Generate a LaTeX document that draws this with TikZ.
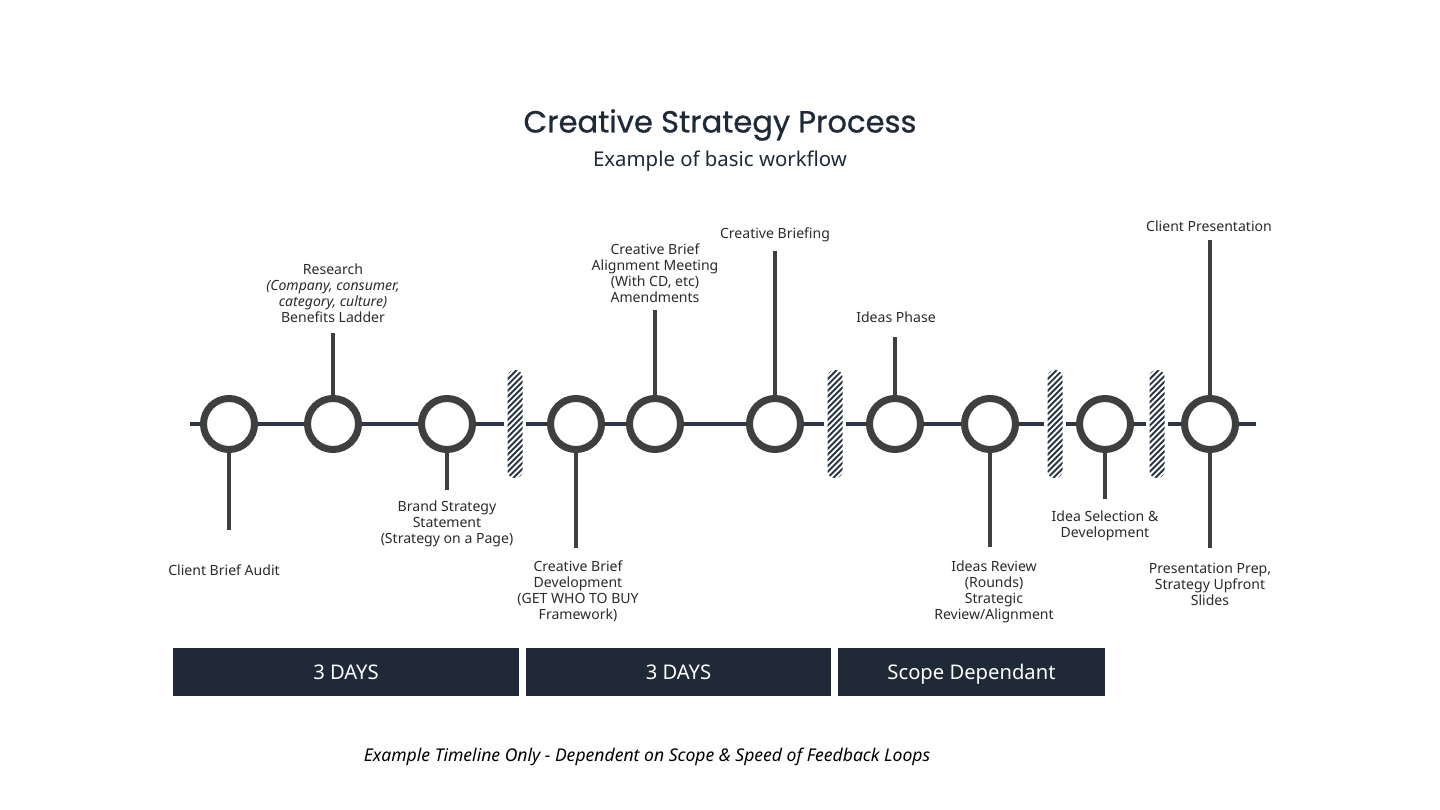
\documentclass[tikz,border=0pt]{standalone}
\usepackage{fontspec}
\setmainfont{Noto Sans}
\newfontfamily\titlefont[FakeBold=0.8]{Poppins}
\usetikzlibrary{calc}
\definecolor{ink}{HTML}{1F2A38}
\definecolor{navy}{HTML}{2A3646}
\definecolor{ring}{HTML}{3F3F3F}
\definecolor{band}{HTML}{1F2937}
\definecolor{txt}{HTML}{2B2B2B}

\begin{document}
\begin{tikzpicture}[x=0.02cm,y=-0.02cm,
  stage/.style={circle,draw=ring,line width=4pt,fill=white,minimum size=51*0.02cm,inner sep=0pt},
  stem/.style={ring,line width=2.8pt},
  gap/.style={rectangle,rounded corners=4pt,minimum width=15*0.02cm,minimum height=108*0.02cm,
    inner sep=0pt,outer sep=2pt,fill=white,
    path picture={\foreach \k in {-16,...,16}
      \draw[navy,line width=1.1pt] ($(path picture bounding box.center)+(-6pt,\k*3.3pt-6pt)$) -- ++(12pt,12pt);}},
  tag/.style={font=\fontsize{8}{9.1}\selectfont,text=txt,align=center,inner sep=0pt},
  period/.style={fill=band,text=white,minimum height=48*0.02cm,inner sep=0pt,
    text height=8.2pt,text depth=0pt,font=\fontsize{11.5}{13}\selectfont}]
\useasboundingbox[fill=white] (0,0) rectangle (1440,810);
% heading
\node[font=\titlefont\fontsize{17.4}{20}\selectfont,text=ink] (title) at (720,125) {Creative Strategy Process};
\node[font=\fontsize{11.6}{14}\selectfont,text=ink] (sub) at (720,161) {Example of basic workflow};
% stages and breaks on the line
\foreach \n/\x in {1/229,2/333,3/447,4/576,5/655,6/775,7/895,8/990,9/1105,10/1210}
  \node[stage] (m\n) at (\x,424) {};
\foreach \n/\x in {1/515,2/835,3/1055,4/1157}
  \node[gap] (s\n) at (\x,424) {};
\coordinate (a0) at (190,424);
\coordinate (a1) at (1256,424);
\draw[navy,line width=2.3pt] (a0) -- (m1) -- (m2) -- (m3) -- (s1) -- (m4) -- (m5) -- (m6) -- (s2)
  -- (m7) -- (m8) -- (s3) -- (m9) -- (s4) -- (m10) -- (a1);
% stems
\foreach \n/\x/\y in {1/229/530,2/333/333,3/447/490,4/576/548,5/655/310,6/775/251,7/895/337,8/990/547,9/1105/499,10/1210/240} {
  \coordinate (e\n) at (\x,\y);
  \draw[stem] (m\n) -- (e\n);}
\coordinate (f10) at (1210,548);
\draw[stem] (m10) -- (f10);
% labels
\node[tag] (l1) at (224,570) {Client Brief Audit};
\node[tag] (l2) at (333,293.5) {Research\\\textit{(Company, consumer,}\\\textit{category, culture)}\\Benefits Ladder};
\node[tag] (l3) at (447,524) {Brand Strategy\\Statement\\(Strategy on a Page)};
\node[tag] (l4) at (578,591.5) {Creative Brief\\Development\\(GET WHO TO BUY\\Framework)};
\node[tag] (l5) at (655,273.5) {Creative Brief\\Alignment Meeting\\(With CD, etc)\\Amendments};
\node[tag] (l6) at (775,235) {Creative Briefing};
\node[tag] (l7) at (896,317) {Ideas Phase};
\node[tag] (l8) at (994,591.5) {Ideas Review\\(Rounds)\\Strategic\\Review/Alignment};
\node[tag] (l9) at (1105,526) {Idea Selection \&\\Development};
\node[tag] (l10) at (1209,226) {Client Presentation};
\node[tag] (k10) at (1210,584.5) {Presentation Prep,\\Strategy Upfront\\Slides};
% durations
\node[period,minimum width=346*0.02cm] (d1) at (346,672) {3 DAYS};
\node[period,minimum width=305*0.02cm] (d2) at (678.5,672) {3 DAYS};
\node[period,minimum width=267*0.02cm] (d3) at (971.5,672) {Scope Dependant};
\node[font=\itshape\fontsize{10}{12}\selectfont,text=black] (note) at (647,757)
  {Example Timeline Only - Dependent on Scope \& Speed of Feedback Loops};
\end{tikzpicture}
\end{document}
